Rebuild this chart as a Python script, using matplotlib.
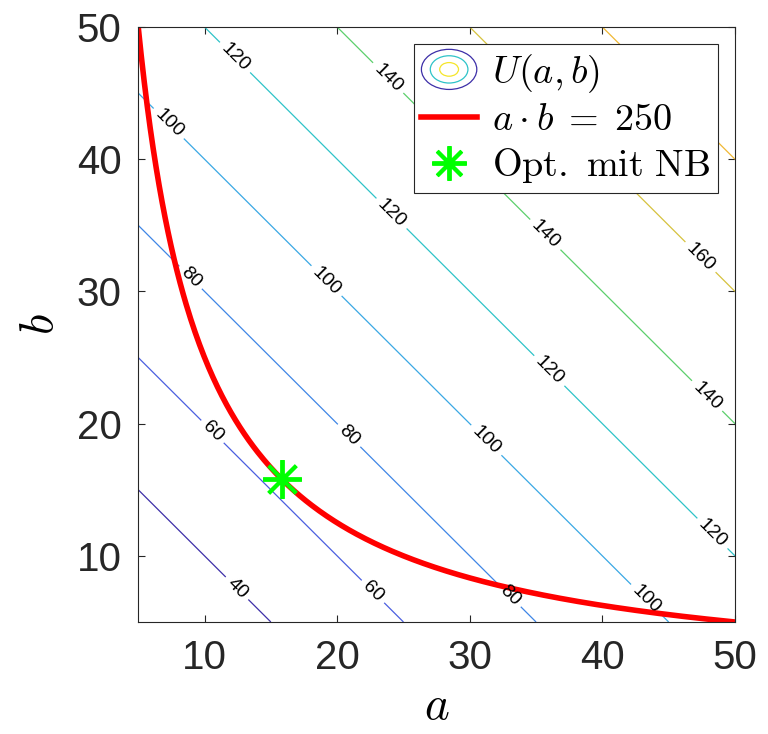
import numpy as np
import matplotlib.pyplot as plt
from matplotlib.patches import Ellipse
from matplotlib.legend_handler import HandlerBase
from matplotlib.lines import Line2D

plt.rcParams['mathtext.fontset'] = 'cm'
plt.rcParams['font.family'] = ['Liberation Sans', 'DejaVu Sans']

# domain and target function U(a,b) = 2a + 2b
a_lim = [5, 50]
b_lim = [5, 50]
levels = [40, 60, 80, 100, 120, 140, 160, 180]
level_colors = ['#3d2fa8', '#4b5fe0', '#3f86e6', '#3aa8e4', '#2ec3c8',
                '#5ccf6c', '#d6c23e', '#f0b834']
ticks = [10, 20, 30, 40, 50]
constraint = 250  # a*b = 250

# where the contour labels sit (data coords)
label_pos = [(12.3, 47.7), (23.9, 46.2), (7.4, 42.8), (24.2, 36.0),
             (35.8, 34.4), (47.3, 32.5), (8.9, 31.0), (19.0, 30.6),
             (10.6, 19.4), (20.9, 19.1), (31.2, 18.7), (35.8, 23.8),
             (47.7, 21.9), (48.2, 11.6), (12.4, 7.5), (22.7, 7.3),
             (33.0, 7.0), (43.3, 6.7)]


class ContourHandler(HandlerBase):
    # concentric ellipses like the MATLAB contour legend icon
    def create_artists(self, legend, orig, xdescent, ydescent, width, height,
                       fontsize, trans):
        cx = width / 2 - xdescent
        cy = height / 2 - ydescent
        arts = []
        for s, c in zip([1.0, 0.68, 0.34], ['#3d2fa8', '#2ec3c8', '#f5e52a']):
            e = Ellipse((cx, cy), width * s, height * 1.5 * s, fill=False,
                        edgecolor=c, lw=0.9, transform=trans)
            arts.append(e)
        return arts


fig = plt.figure(figsize=(7.68, 7.34), dpi=100)
ax = fig.add_axes([0.180, 0.1526, 0.777, 0.8106])

A, B = np.meshgrid(np.linspace(a_lim[0], a_lim[1], 200),
                   np.linspace(b_lim[0], b_lim[1], 200))
U = 2 * A + 2 * B
cs = ax.contour(A, B, U, levels=levels, colors=level_colors, linewidths=0.9)
ax.clabel(cs, levels, manual=label_pos, inline=True, inline_spacing=5,
          fontsize=14, fmt='%d', colors='black')

a = np.linspace(a_lim[0], a_lim[1], 400)
ax.plot(a, constraint / a, color='red', lw=4, solid_capstyle='butt')

a_opt = np.sqrt(constraint)
ax.plot(a_opt, constraint / a_opt, marker=(8, 2, 0), color='#00ff00',
        markersize=28, markeredgewidth=2.8, linestyle='none')

ax.set_xlim(a_lim)
ax.set_ylim(b_lim)
ax.set_xticks(ticks)
ax.set_yticks(ticks)
ax.tick_params(direction='in', top=True, right=True, length=5, width=0.8,
               labelsize=29, colors='#262626', pad=12)
for sp in ax.spines.values():
    sp.set_color('#262626')
    sp.set_linewidth(0.8)
ax.set_xlabel('$a$', fontsize=34, labelpad=6)
ax.set_ylabel('$b$', fontsize=34, labelpad=10)

handles = [Line2D([], []),
           Line2D([], [], color='red', lw=4),
           Line2D([], [], marker=(8, 2, 0), color='#00ff00', markersize=25,
                  markeredgewidth=2.8, linestyle='none')]
labels = ['$U(a,b)$', r'$a \cdot b \;=\; 250$', r'$\mathrm{Opt.\ mit\ NB}$']
leg = ax.legend(handles, labels, loc='upper right', fontsize=27.5,
                handler_map={handles[0]: ContourHandler()},
                handlelength=1.45, handletextpad=0.4, labelspacing=0.2,
                borderpad=0.2, borderaxespad=0.45, fancybox=False,
                framealpha=1, edgecolor='#262626')
leg.get_frame().set_linewidth(0.8)

plt.savefig('out.png', dpi=100)
